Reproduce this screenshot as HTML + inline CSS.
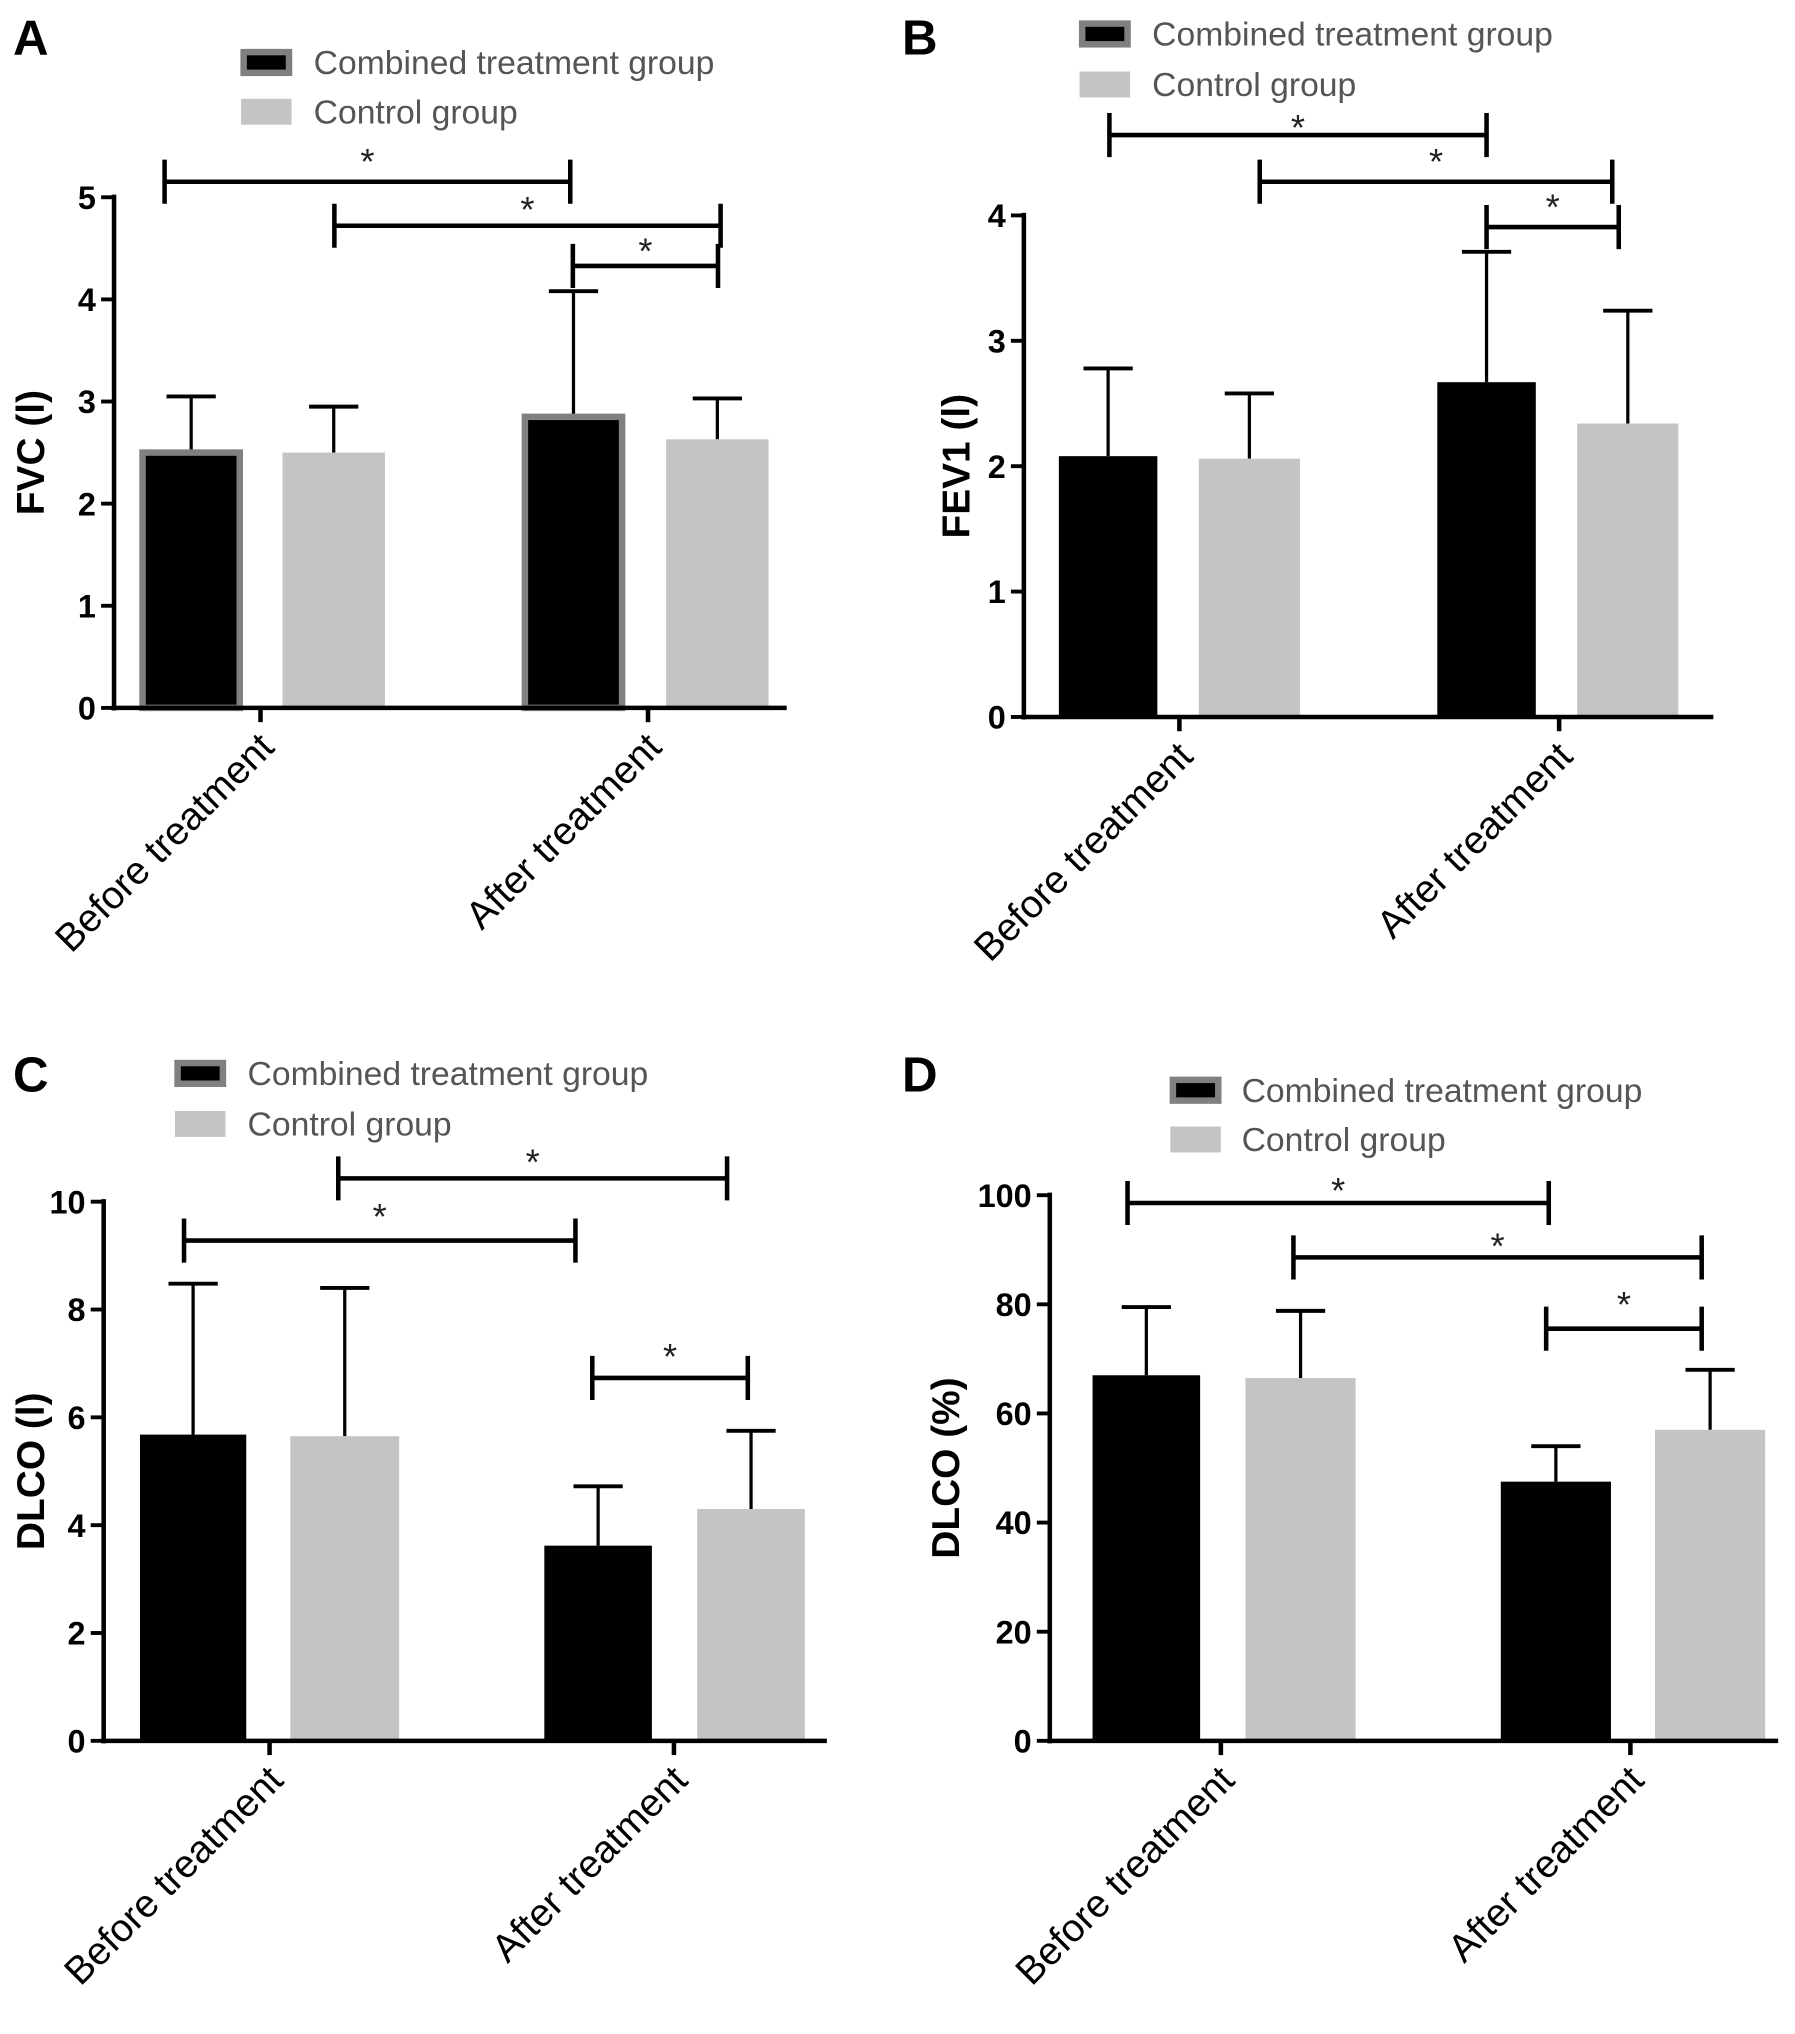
<!DOCTYPE html>
<html><head><meta charset="utf-8"><style>
html,body{margin:0;padding:0;background:#fff}
svg{display:block}
text{font-family:"Liberation Sans",sans-serif}
</style></head><body>
<svg id="fig" width="1795" height="2034" viewBox="0 0 1385 1569" xmlns="http://www.w3.org/2000/svg"></svg>
<script>
const categories = ["Before treatment","After treatment"];
const seriesNames = ["Combined treatment group","Control group"];
const fvcMeans = [2.5, 2.5, 2.85, 2.63];
const fvcErr = [3.05, 2.95, 4.08, 3.03];
const fev1Means = [2.08, 2.06, 2.67, 2.34];
const fev1Err = [2.78, 2.58, 3.71, 3.24];
const dlcoMeans = [5.68, 5.65, 3.62, 4.3];
const dlcoErr = [8.48, 8.4, 4.72, 5.75];
const dlcopMeans = [67, 66.5, 47.5, 57];
const dlcopErr = [79.5, 78.8, 54, 68];
const fvcTicks = [0,1,2,3,4,5];
const fev1Ticks = [0,1,2,3,4];
const dlcoTicks = [0,2,4,6,8,10];
const dlcopTicks = [0,20,40,60,80,100];

const NS="http://www.w3.org/2000/svg";
const svg=document.getElementById('fig');
function el(tag,attrs,parent,txt){const e=document.createElementNS(NS,tag);for(const k in attrs)e.setAttribute(k,attrs[k]);if(txt!==undefined)e.textContent=txt;(parent||svg).appendChild(e);return e;}

const panels=[
 {id:'a',letter:'A',lx:10,ly:42,ax:88,y0:546,yTop:152,xEnd:607,max:5,ticks:fvcTicks,means:fvcMeans,err:fvcErr,title:'FVC (l)',tx:24,
  bars:[[110,185],[218,297],[405,480],[514,593]],cat:[201,500],border:true,
  leg:{x:186,y1:38,y2:76,tx:242},
  br:[[127,440,140,118],[258,556,174,155],[442,554,205,187]]},
 {id:'b',letter:'B',lx:696,ly:42,ax:790,y0:553,yTop:166,xEnd:1322,max:4,ticks:fev1Ticks,means:fev1Means,err:fev1Err,title:'FEV1 (l)',tx:738,
  bars:[[817,893],[925,1003],[1109,1185],[1217,1295]],cat:[910,1203],border:false,
  leg:{x:833,y1:16,y2:55,tx:889},
  br:[[856,1147,104,92],[972,1244,140,118],[1147,1249,175,153]]},
 {id:'c',letter:'C',lx:10,ly:842,ax:80,y0:1343,yTop:927,xEnd:638,max:10,ticks:dlcoTicks,means:dlcoMeans,err:dlcoErr,title:'DLCO (l)',tx:24,
  bars:[[108,190],[224,308],[420,503],[538,621]],cat:[208,520],border:false,
  leg:{x:135,y1:818,y2:857,tx:191},
  br:[[142,444,957,932],[261,561,909,890],[457,577,1063,1040]]},
 {id:'d',letter:'D',lx:696,ly:842,ax:810,y0:1343,yTop:922,xEnd:1372,max:100,ticks:dlcopTicks,means:dlcopMeans,err:dlcopErr,title:'DLCO (%)',tx:730,
  bars:[[843,926],[961,1046],[1158,1243],[1277,1362]],cat:[942,1258],border:false,
  leg:{x:903,y1:831,y2:869,tx:958},
  br:[[870,1195,928,912],[998,1313,970,955],[1193,1313,1025,1000]]}
];

panels.forEach(p=>{
 const g=el('g',{});
 
 
 const yS=v=>p.y0-(v/p.max)*(p.y0-p.yTop);
 const lt=el('text',{x:p.lx,y:p.ly,'font-size':38,'font-weight':'bold'},g,p.letter);
 
 const lg=el('g',{},g);
 const s1=el('rect',{x:p.leg.x+2,y:p.leg.y1+2,width:35,height:16,fill:'#000',stroke:'#808080','stroke-width':5},lg);
 
 const s2=el('rect',{x:p.leg.x,y:p.leg.y2,width:39,height:20,fill:'#c4c4c4'},lg);
 
 const t1=el('text',{x:p.leg.tx,y:p.leg.y1+19,'font-size':26,fill:'#555'},lg,seriesNames[0]);
 
 const t2=el('text',{x:p.leg.tx,y:p.leg.y2+19,'font-size':26,fill:'#555'},lg,seriesNames[1]);
 
 p.means.forEach((m,i)=>{
  const [x1,x2]=p.bars[i];const cx=(x1+x2)/2;const black=i%2===0;
  const top=yS(m);
  const eg=el('g',{},g);
  
  el('line',{x1:cx,x2:cx,y1:top,y2:yS(p.err[i]),stroke:'#000','stroke-width':2.5},eg);
  el('line',{x1:cx-19,x2:cx+19,y1:yS(p.err[i]),y2:yS(p.err[i]),stroke:'#000','stroke-width':3},eg);
  const r=el('rect',{x:x1,y:top,width:x2-x1,height:p.y0-top,fill:black?'#000':'#c4c4c4'},g);
  if(black&&p.border){r.setAttribute('stroke','#808080');r.setAttribute('stroke-width',5);}
  
  
 });
 const ya=el('line',{x1:p.ax,x2:p.ax,y1:p.yTop-2,y2:p.y0+2,stroke:'#000','stroke-width':3.5},g);
 
 const xa=el('line',{x1:p.ax-2,x2:p.xEnd,y1:p.y0,y2:p.y0,stroke:'#000','stroke-width':3.5},g);
 
 p.ticks.forEach(t=>{
  const y=yS(t);
  el('line',{x1:p.ax-10,x2:p.ax,y1:y,y2:y,stroke:'#000','stroke-width':3},g);
  const tl=el('text',{x:p.ax-14,y:y+9,'font-size':25,'font-weight':'bold','text-anchor':'end'},g,t);
  
 });
 const yt=el('text',{x:0,y:0,'font-size':30,'font-weight':'bold','text-anchor':'middle',transform:`translate(${p.tx+10},${(p.y0+p.yTop)/2}) rotate(-90)`},g,p.title);
 
 categories.forEach((c,i)=>{
  const x=p.cat[i];
  el('line',{x1:x,x2:x,y1:p.y0,y2:p.y0+11,stroke:'#000','stroke-width':3.5},g);
  const ct=el('text',{x:0,y:0,'font-size':30,'text-anchor':'end',transform:`translate(${x+12},${p.y0+32}) rotate(-45)`},g,c);
  
 });
 p.br.forEach((b,k)=>{
  const bg=el('g',{},g);
  
  el('line',{x1:b[0],x2:b[1],y1:b[2],y2:b[2],stroke:'#000','stroke-width':3.5},bg);
  el('line',{x1:b[0],x2:b[0],y1:b[2]-17,y2:b[2]+17,stroke:'#000','stroke-width':3.5},bg);
  el('line',{x1:b[1],x2:b[1],y1:b[2]-17,y2:b[2]+17,stroke:'#000','stroke-width':3.5},bg);
  el('text',{x:(b[0]+b[1])/2,y:b[3]+16,'font-size':28,'text-anchor':'middle',fill:'#222'},bg,'*');
 });
});
</script>
</body></html>
